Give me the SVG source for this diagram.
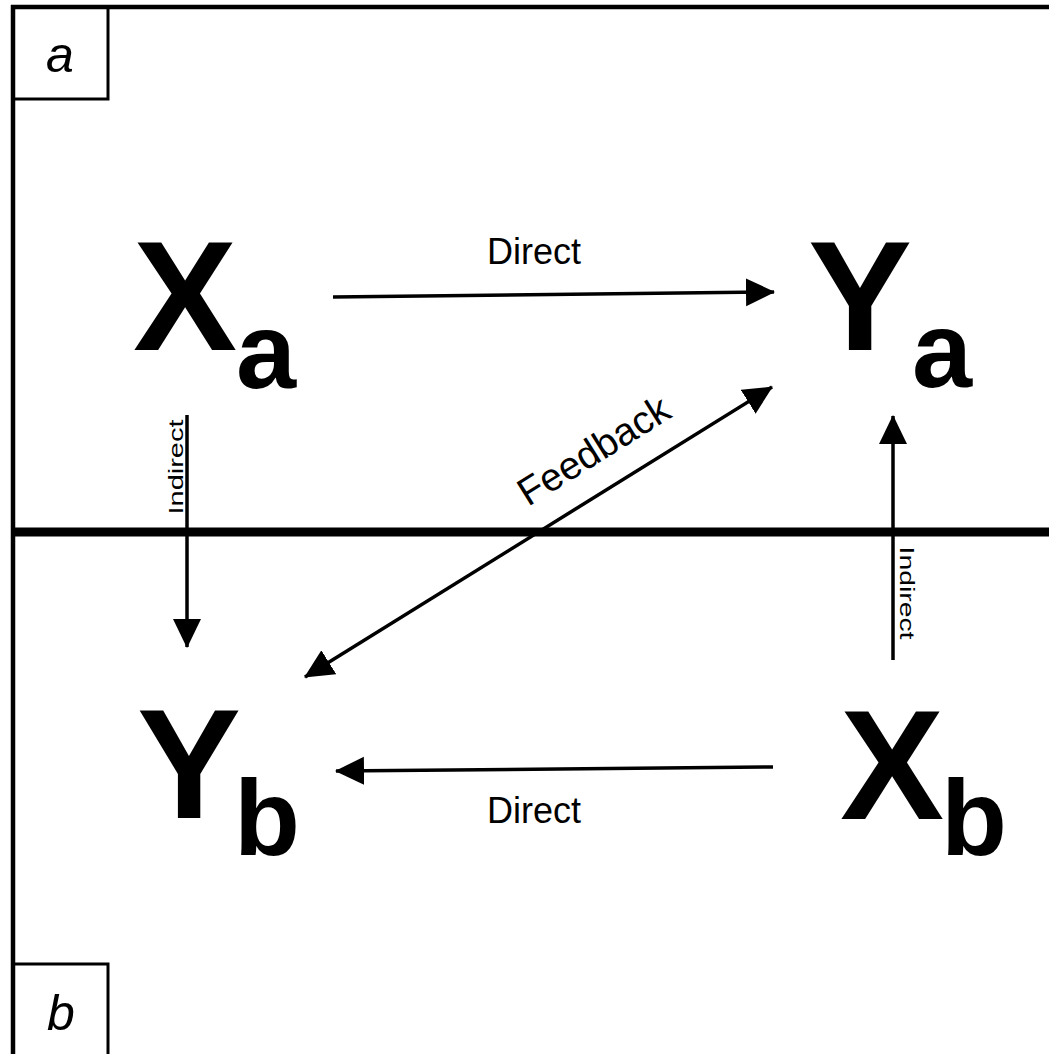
<svg xmlns="http://www.w3.org/2000/svg" width="1049" height="1054" viewBox="0 0 1049 1054">
<style>
.big{font-family:"Liberation Sans",Arial,sans-serif;font-weight:bold;fill:#000;font-size:156px}
.sub{font-size:108px}
.lbl{font-family:"Liberation Sans",Arial,sans-serif;fill:#000}
.panel{font-family:"Liberation Sans",Arial,sans-serif;font-style:italic;font-size:50px;fill:#000}
.conn{stroke:#000;stroke-width:3.5;fill:none}
</style>
<defs>
<marker id="ah" markerUnits="userSpaceOnUse" markerWidth="30" markerHeight="30" viewBox="0 0 30 30" refX="28" refY="15" orient="auto">
<path d="M0,1 L29,15 L0,29 Z" fill="#000"/>
</marker>
<marker id="ahs" markerUnits="userSpaceOnUse" markerWidth="30" markerHeight="30" viewBox="0 0 30 30" refX="2" refY="15" orient="auto">
<path d="M30,1 L1,15 L30,29 Z" fill="#000"/>
</marker>
</defs>
<rect width="1049" height="1054" fill="#fff"/>
<g id="frame">
<line x1="11" y1="7" x2="1049" y2="7" stroke="#000" stroke-width="4.5"/>
<line x1="13" y1="5" x2="13" y2="1054" stroke="#000" stroke-width="4.5"/>
<line x1="13" y1="532" x2="1049" y2="532" stroke="#000" stroke-width="9"/>
</g>
<g id="panel-a">
<rect x="13" y="7" width="95" height="92" fill="none" stroke="#000" stroke-width="3"/>
<text class="panel" x="60" y="72" text-anchor="middle">a</text>
</g>
<g id="panel-b">
<rect x="13" y="964" width="95" height="100" fill="none" stroke="#000" stroke-width="3"/>
<text class="panel" x="61" y="1030" text-anchor="middle">b</text>
</g>
<g id="node-Xa">
<text class="big" x="133" y="350">X<tspan class="sub" dy="38" dx="-1">a</tspan></text>
</g>
<g id="node-Ya">
<text class="big" x="808" y="350">Y<tspan class="sub" dy="37" dx="0">a</tspan></text>
</g>
<g id="node-Yb">
<text class="big" x="137" y="818">Y<tspan class="sub" dy="37" dx="-7">b</tspan></text>
</g>
<g id="node-Xb">
<text class="big" x="840" y="819">X<tspan class="sub" dy="36" dx="-3">b</tspan></text>
</g>
<g id="connectors">
<line class="conn" x1="333" y1="297" x2="774" y2="292" marker-end="url(#ah)"/>
<line class="conn" x1="773" y1="767" x2="336" y2="771" marker-end="url(#ah)"/>
<line class="conn" x1="187" y1="415" x2="187" y2="647" marker-end="url(#ah)"/>
<line class="conn" x1="893" y1="660" x2="893" y2="416" marker-end="url(#ah)"/>
<line class="conn" x1="305" y1="677" x2="772" y2="387" marker-start="url(#ahs)" marker-end="url(#ah)"/>
<text class="lbl" x="487" y="264" font-size="36">Direct</text>
<text class="lbl" x="487" y="823" font-size="36">Direct</text>
<text class="lbl" font-size="21" text-anchor="middle" textLength="95" lengthAdjust="spacingAndGlyphs" transform="translate(183,467) rotate(-90)">Indirect</text>
<text class="lbl" font-size="21" text-anchor="middle" textLength="93" lengthAdjust="spacingAndGlyphs" transform="translate(900,593) rotate(90)">Indirect</text>
<text class="lbl" font-size="39" transform="translate(528,507) rotate(-31.9)">Feedback</text>
</g>
</svg>
